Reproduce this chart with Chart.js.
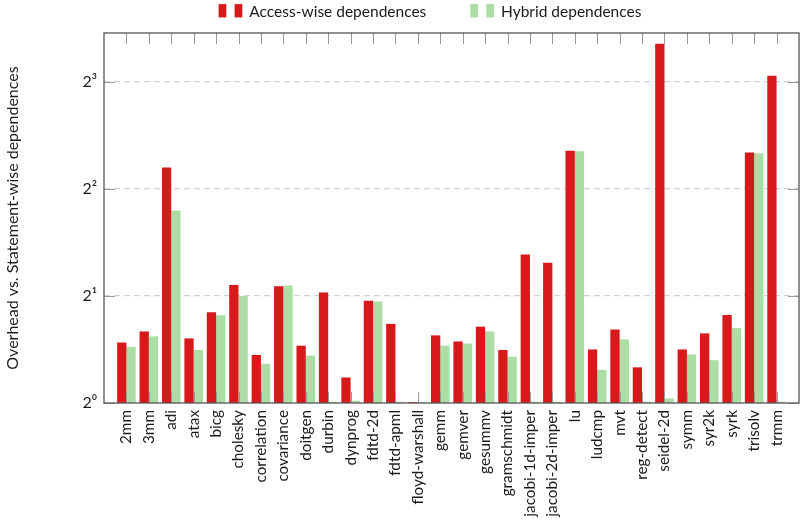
<!DOCTYPE html>
<html>
<head>
<meta charset="utf-8">
<script src="https://cdn.jsdelivr.net/npm/chart.js@4/dist/chart.umd.min.js"></script>
<style>
  html, body { margin: 0; padding: 0; background: #fff; }
  #wrap { width: 802px; height: 520px; }
</style>
</head>
<body>
<div id="wrap"><canvas id="c" width="802" height="520"></canvas></div>
<script>
// PolyBench kernels
const benchmarks = [
  '2mm', '3mm', 'adi', 'atax', 'bicg', 'cholesky', 'correlation', 'covariance',
  'doitgen', 'durbin', 'dynprog', 'fdtd-2d', 'fdtd-apml', 'floyd-warshall',
  'gemm', 'gemver', 'gesummv', 'gramschmidt', 'jacobi-1d-imper', 'jacobi-2d-imper',
  'lu', 'ludcmp', 'mvt', 'reg-detect', 'seidel-2d', 'symm', 'syr2k', 'syrk',
  'trisolv', 'trmm'
];

// Overhead ratios relative to statement-wise dependences
const accessWise = [
  1.48, 1.59, 4.60, 1.52, 1.80, 2.15, 1.365, 2.13,
  1.45, 2.045, 1.18, 1.94, 1.67, 1.006,
  1.55, 1.49, 1.64, 1.41, 2.62, 2.48,
  5.13, 1.415, 1.61, 1.26, 10.26, 1.415, 1.57, 1.77,
  5.07, 8.34
];
const hybrid = [
  1.44, 1.54, 3.48, 1.41, 1.765, 2.00, 1.29, 2.14,
  1.36, 1.008, 1.015, 1.93, 1.008, 1.006,
  1.45, 1.47, 1.59, 1.35, 1.008, 1.008,
  5.11, 1.24, 1.51, 1.008, 1.03, 1.37, 1.32, 1.625,
  5.05, 1.008
];

const seriesNames = ['Access-wise dependences', 'Hybrid dependences'];
const seriesColors = ['#d7191c', '#abdda4'];

const yTickValues = [1, 2, 4, 8];
const yTickLabels = ['2⁰', '2¹', '2²', '2³'];
const yTitle = 'Overhead vs. Statement-wise dependences';

const FONT = 'Lato, "DejaVu Sans", sans-serif';
const TEXT = '#1b1b1b';

// Frame around the plot and inward tick marks on all four sides
const framePlugin = {
  id: 'frame',
  afterDatasetsDraw(chart) {
    const { ctx, chartArea: a } = chart;
    const xs = chart.scales.x, ys = chart.scales.y;
    const len = 11;
    ctx.save();
    ctx.strokeStyle = '#9a9a9a';
    ctx.lineWidth = 1;
    ctx.beginPath();
    benchmarks.forEach((_, i) => {
      const px = Math.round(xs.getPixelForTick(i)) + 0.5;
      ctx.moveTo(px, a.top); ctx.lineTo(px, a.top + len);
      ctx.moveTo(px, a.bottom); ctx.lineTo(px, a.bottom - len);
    });
    yTickValues.forEach(v => {
      const py = Math.round(ys.getPixelForValue(v)) + 0.5;
      ctx.moveTo(a.left, py); ctx.lineTo(a.left + len, py);
      ctx.moveTo(a.right, py); ctx.lineTo(a.right - len, py);
    });
    ctx.stroke();
    ctx.strokeStyle = '#555';
    ctx.lineWidth = 1.3;
    ctx.strokeRect(a.left, a.top, a.right - a.left, a.bottom - a.top);
    ctx.restore();
  }
};

// Legend: each entry shows two small bars followed by its label
const legendPlugin = {
  id: 'barLegend',
  afterDraw(chart) {
    const { ctx } = chart;
    ctx.save();
    ctx.font = '15.5px ' + FONT;
    ctx.textBaseline = 'middle';
    ctx.fillStyle = TEXT;
    const barW = 7.7, barGap = 8.3, barH = 13.3, textGap = 7, itemGap = 44;
    const iconW = barW * 2 + barGap;
    const widths = chart.data.datasets.map(d => iconW + textGap + ctx.measureText(d.label).width);
    const total = widths.reduce((s, w) => s + w, 0) + itemGap * (widths.length - 1);
    let x = 430 - total / 2;
    const cy = 10.8;
    chart.data.datasets.forEach((d, i) => {
      ctx.fillStyle = d.backgroundColor;
      ctx.fillRect(x, cy - barH / 2, barW, barH);
      ctx.fillRect(x + barW + barGap, cy - barH / 2, barW, barH);
      ctx.fillStyle = TEXT;
      ctx.fillText(d.label, x + iconW + textGap, cy + 0.8);
      x += widths[i] + itemGap;
    });
    ctx.restore();
  }
};

new Chart(document.getElementById('c'), {
  type: 'bar',
  data: {
    labels: benchmarks,
    datasets: [
      { label: seriesNames[0], data: accessWise, backgroundColor: seriesColors[0] },
      { label: seriesNames[1], data: hybrid, backgroundColor: seriesColors[1] }
    ]
  },
  options: {
    responsive: false,
    devicePixelRatio: 1,
    animation: false,
    layout: { padding: { top: 33, right: 2, left: 0, bottom: 0 } },
    datasets: { bar: { categoryPercentage: 0.83, barPercentage: 1.0, borderWidth: 0 } },
    plugins: { legend: { display: false }, tooltip: { enabled: false } },
    scales: {
      x: {
        grid: { display: false, drawTicks: false },
        border: { display: false },
        ticks: {
          autoSkip: false, maxRotation: 90, minRotation: 90, padding: 7,
          color: TEXT, font: { family: FONT, size: 15.3 }
        },
        // leave one full category of space before the first and after the last kernel
        afterBuildTicks(s) {
          s._startValue = -1;
          s._valueRange = benchmarks.length + 1;
        },
        afterFit(s) { s.height = 117; }
      },
      y: {
        type: 'logarithmic',
        min: 1,
        max: 11,
        afterBuildTicks(s) { s.ticks = yTickValues.map(v => ({ value: v })); },
        grid: {
          drawTicks: false,
          lineWidth: 1.3,
          color: ctx => (ctx.tick && ctx.tick.value === 1) ? 'rgba(0,0,0,0)' : '#d2d2d2'
        },
        border: { display: false, dash: [6, 4] },
        ticks: {
          padding: 7,
          color: TEXT,
          font: { family: FONT, size: 16 },
          callback: (v) => yTickLabels[yTickValues.indexOf(v)]
        },
        title: {
          display: true,
          text: yTitle,
          color: TEXT,
          font: { family: FONT, size: 16 },
          padding: { top: 3, bottom: 0 }
        },
        afterFit(s) { s.width = 104; }
      }
    }
  },
  plugins: [framePlugin, legendPlugin]
});
</script>
</body>
</html>
